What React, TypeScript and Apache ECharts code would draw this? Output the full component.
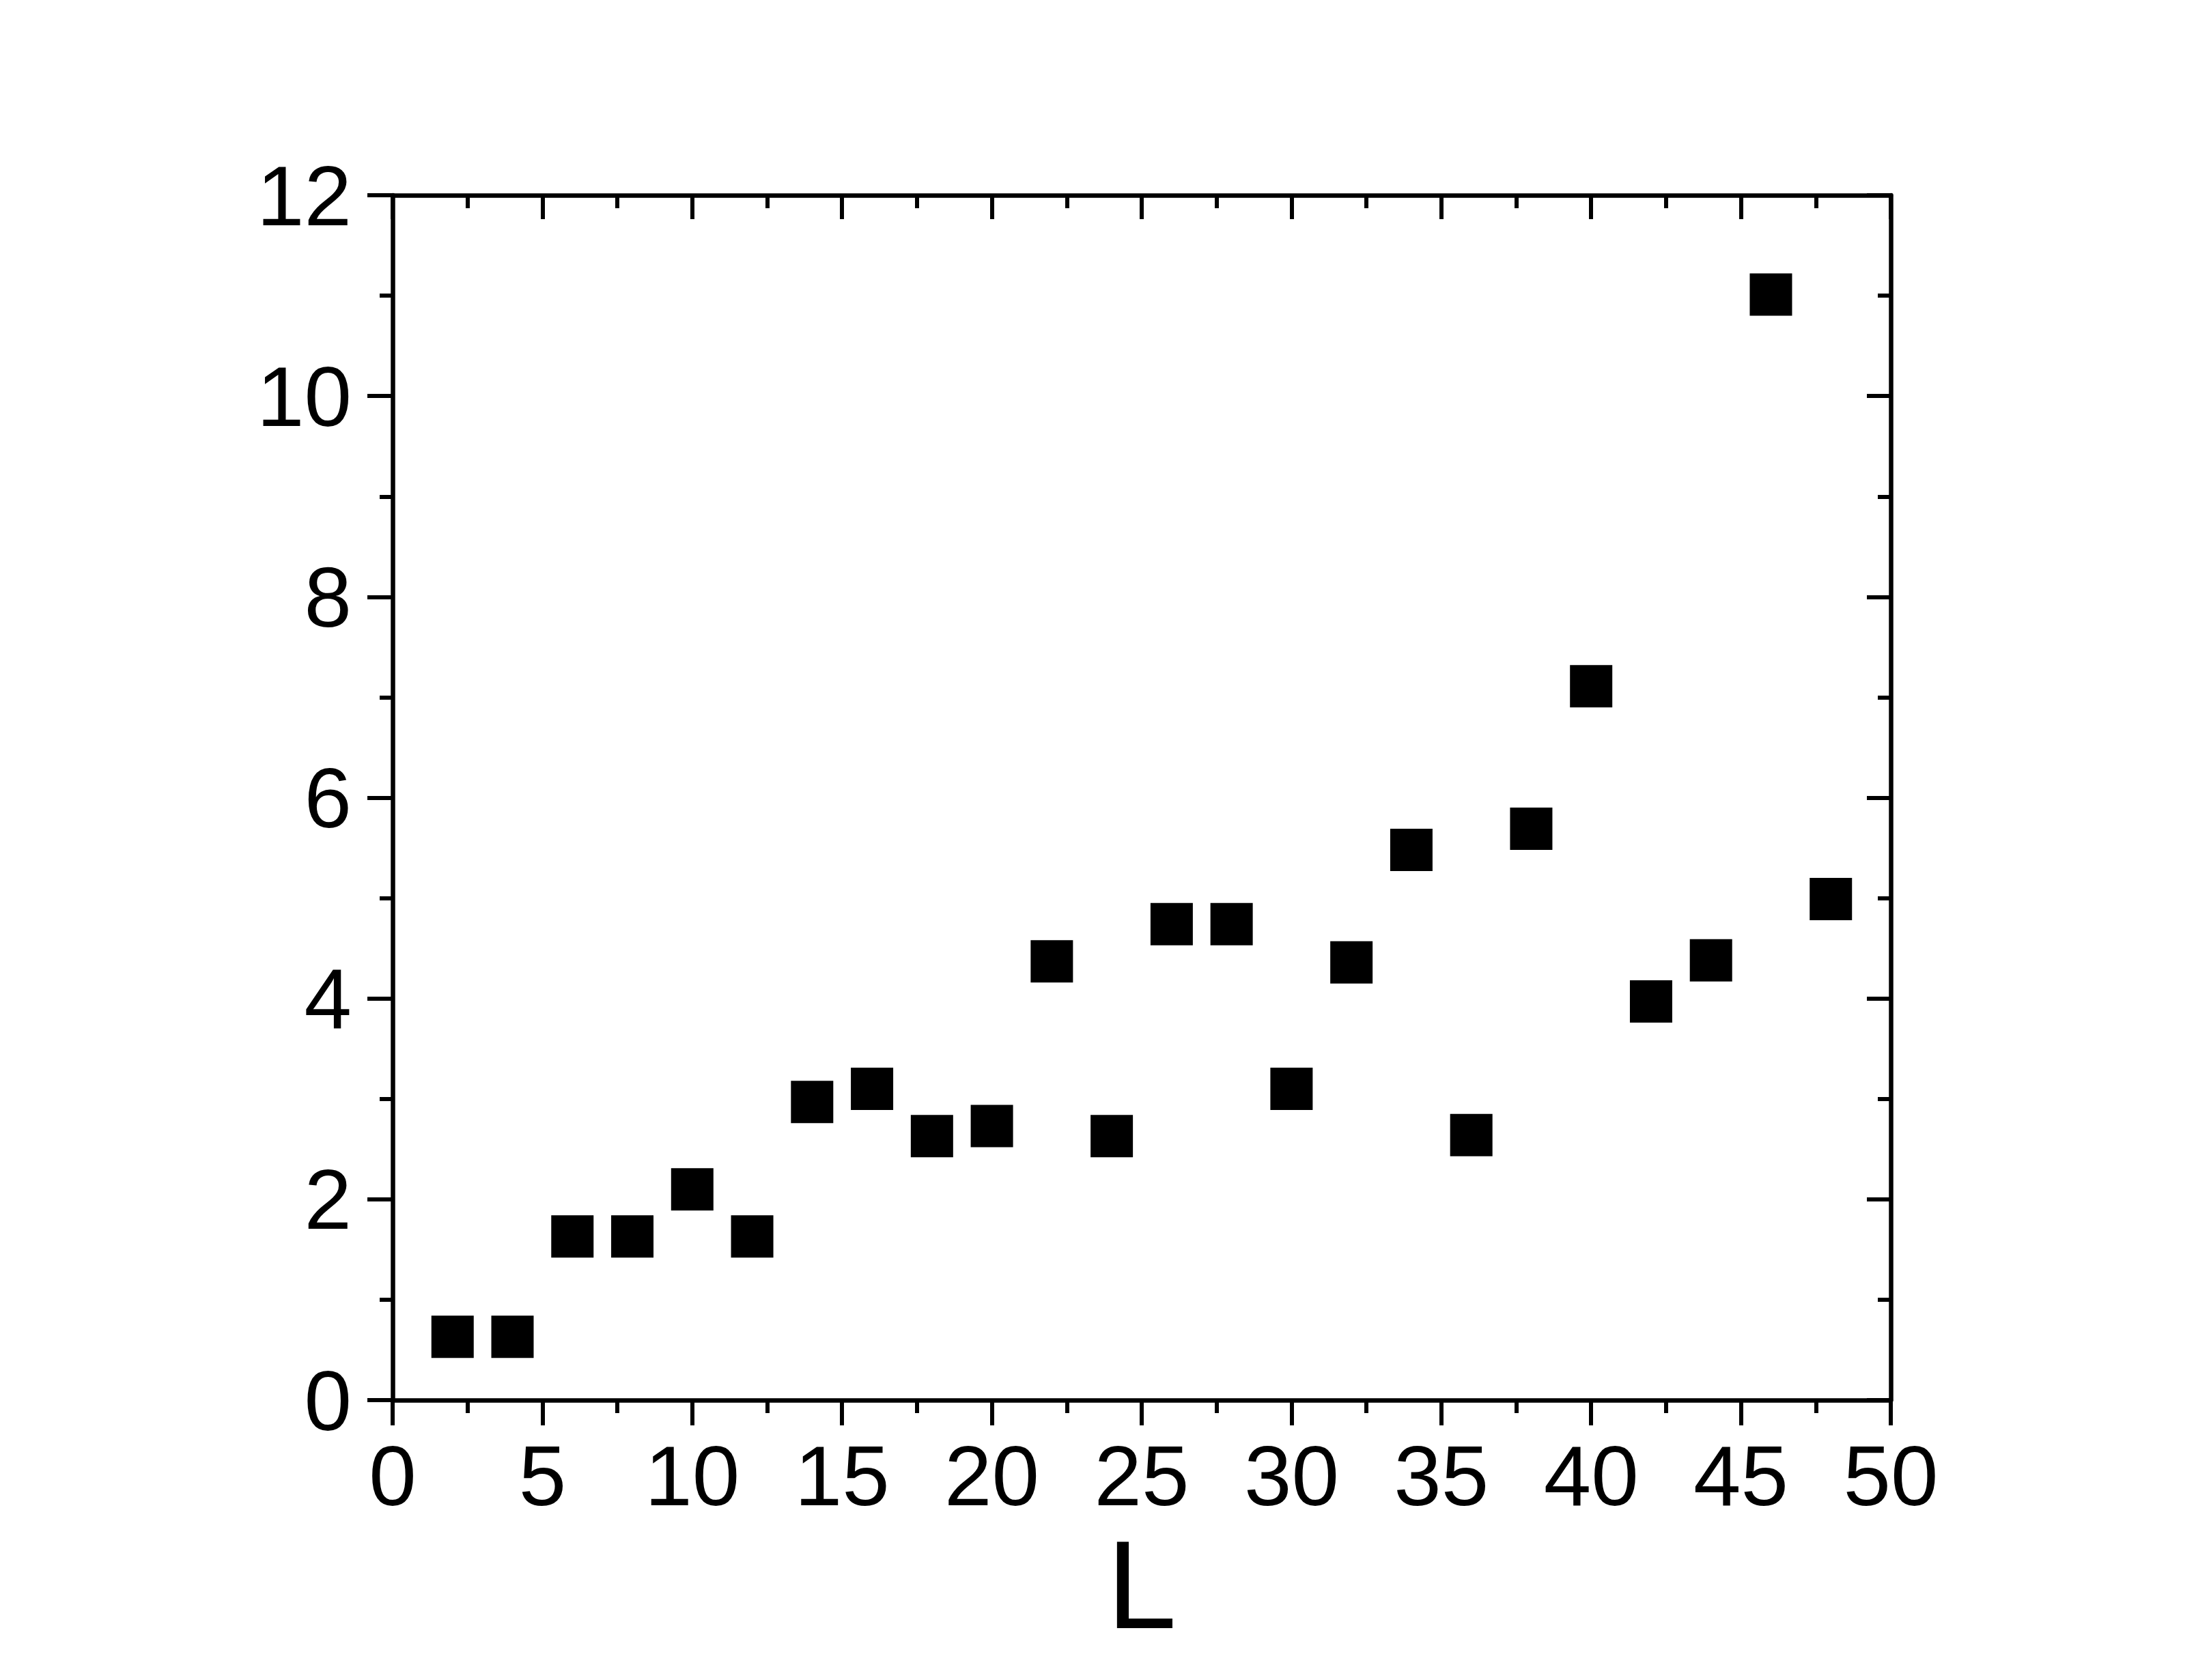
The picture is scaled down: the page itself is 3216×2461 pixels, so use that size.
import React, { useEffect, useRef } from "react";
import * as echarts from "echarts";

const L_VALUES = [2, 4, 6, 8, 10, 12, 14, 16, 18, 20, 22, 24, 26, 28, 30, 32, 34, 36, 38, 40, 42, 44, 46, 48];
const Y_VALUES = [0.63, 0.63, 1.63, 1.63, 2.1, 1.63, 2.97, 3.1, 2.63, 2.73, 4.37, 2.63, 4.74, 4.74, 3.1, 4.36, 5.48, 2.64, 5.69, 7.11, 3.97, 4.38, 11.01, 4.99];
const X_AXIS_NAME = "L";

const FONT = "'Liberation Sans', Arial, sans-serif";

export default function App() {
  const ref = useRef<HTMLDivElement>(null);
  useEffect(() => {
    if (!ref.current) return;
    const chart = echarts.init(ref.current, null, { renderer: "svg" });
    const lineStyle = { color: "#000", width: 6.5 };
    const tickStyle = { color: "#000", width: 6 };
    const commonX = {
      type: "value",
      min: 0,
      max: 50,
      interval: 5,
      splitLine: { show: false },
      axisLine: { show: true, onZero: false, lineStyle },
      minorTick: { show: true, splitNumber: 2, length: 19, lineStyle: tickStyle },
      minorSplitLine: { show: false },
    };
    const commonY = {
      type: "value",
      min: 0,
      max: 12,
      interval: 2,
      splitLine: { show: false },
      axisLine: { show: true, onZero: false, lineStyle },
      minorTick: { show: true, splitNumber: 2, length: 19, lineStyle: tickStyle },
      minorSplitLine: { show: false },
    };
    chart.setOption({
      animation: false,
      backgroundColor: "#fff",
      grid: { left: 575, top: 286, right: 447, bottom: 410, containLabel: false },
      xAxis: [
        {
          ...commonX,
          position: "bottom",
          name: X_AXIS_NAME,
          nameLocation: "middle",
          nameGap: 178,
          nameTextStyle: { fontFamily: FONT, fontSize: 184, color: "#000" },
          axisTick: { show: true, inside: false, length: 37, lineStyle: tickStyle },
          axisLabel: { show: true, margin: 48, fontFamily: FONT, fontSize: 125, color: "#000" },
        },
        {
          ...commonX,
          position: "top",
          axisTick: { show: true, inside: true, length: 35, lineStyle: tickStyle },
          axisLabel: { show: false },
        },
      ],
      yAxis: [
        {
          ...commonY,
          position: "left",
          axisTick: { show: true, inside: false, length: 37, lineStyle: tickStyle },
          axisLabel: { show: true, margin: 60, fontFamily: FONT, fontSize: 125, color: "#000" },
        },
        {
          ...commonY,
          position: "right",
          axisTick: { show: true, inside: true, length: 35, lineStyle: tickStyle },
          axisLabel: { show: false },
        },
      ],
      series: [
        {
          type: "scatter",
          xAxisIndex: 0,
          yAxisIndex: 0,
          symbol: "rect",
          symbolSize: 62,
          itemStyle: { color: "#000", opacity: 1 },
          data: L_VALUES.map((x, i) => [x, Y_VALUES[i]]),
        },
      ],
    });
    return () => chart.dispose();
  }, []);
  return (
    <div
      ref={ref}
      style={{ position: "absolute", left: 0, top: 0, width: 3216, height: 2461, background: "#fff" }}
    />
  );
}
